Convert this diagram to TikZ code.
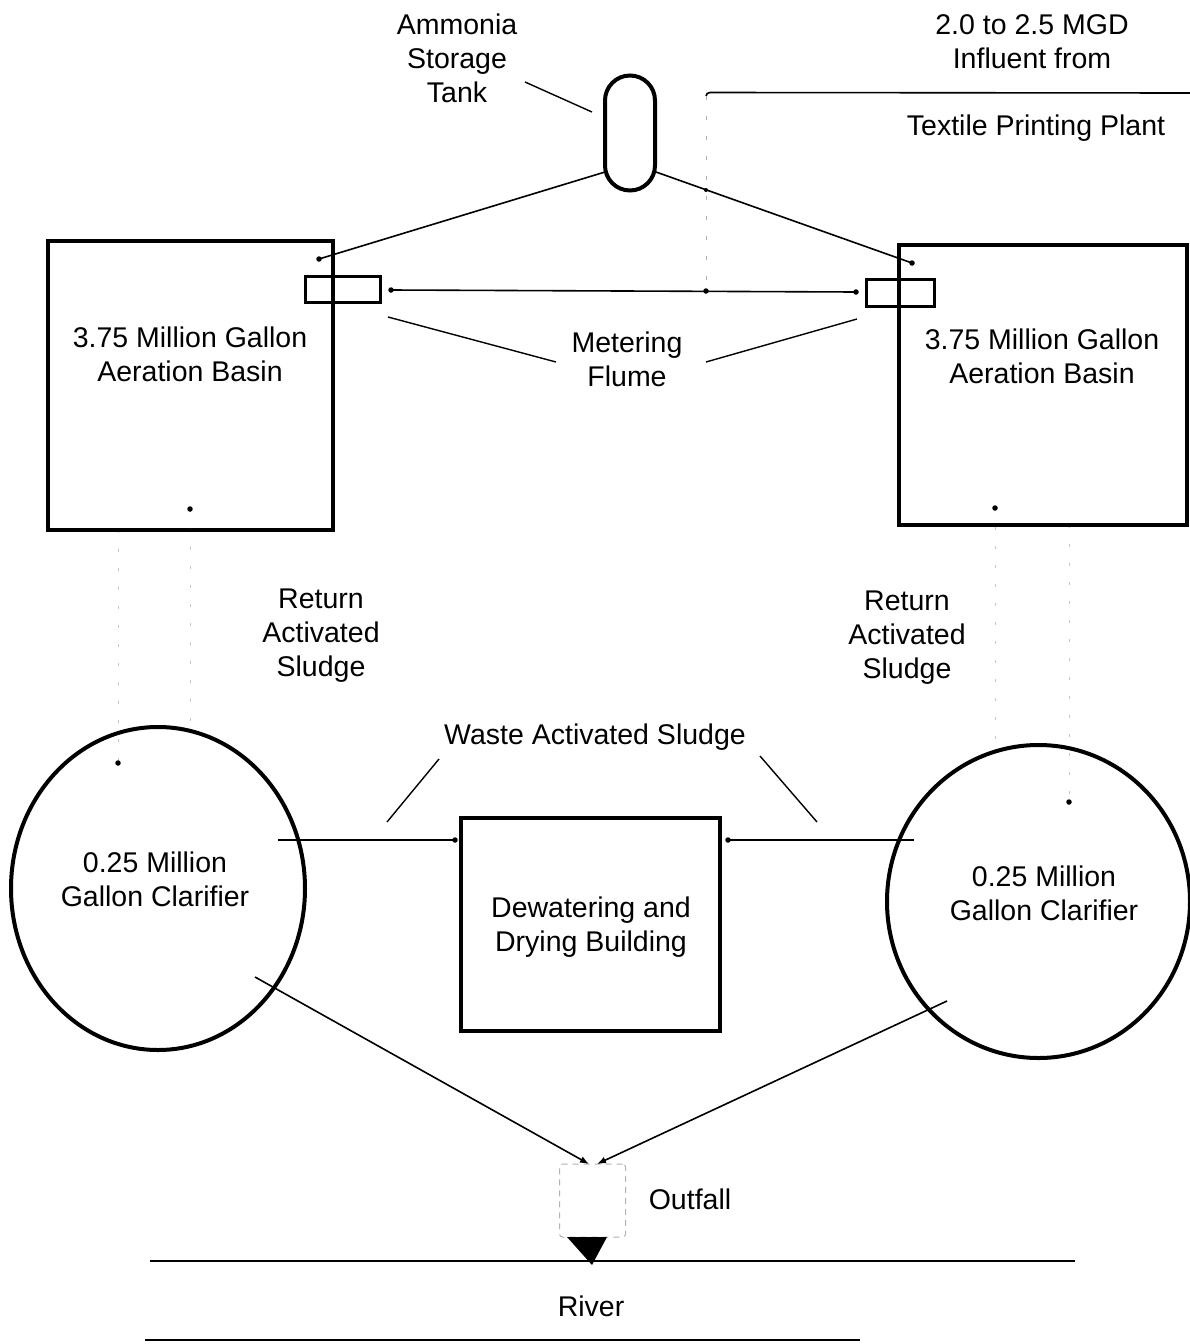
\documentclass[tikz,border=0pt]{standalone}
\usepackage{fontspec}
\setmainfont{Liberation Sans}
\usetikzlibrary{arrows.meta,shapes.geometric}
\begin{document}
\begin{tikzpicture}[x=1pt,y=-1pt,
  lbl/.style={font=\fontsize{28.5}{34}\selectfont, align=center, inner sep=0pt},
  heavybox/.style={draw, line width=3.4pt, inner sep=0pt},
  pipe/.style={line width=1.6pt},
  leader/.style={line width=1.4pt},
  dotpt/.style={circle, fill, inner sep=0pt, minimum size=5.5pt},
  smalldot/.style={circle, fill, inner sep=0pt, minimum size=4pt},
  faint/.style={draw=black!22, line width=1pt, dash pattern=on 3pt off 16pt},
  arr/.style={pipe, -{Latex[length=9pt,width=7pt]}},
  ]
\useasboundingbox (0,0) rectangle (1190,1344);
\fill[white] (0,0) rectangle (1190,1344);

% ---------- shapes ----------
\node[heavybox, minimum width=285pt, minimum height=289pt] (bL) at (190.5,385.5) {};
\node[heavybox, minimum width=288pt, minimum height=280pt] (bR) at (1043,385) {};
\node[heavybox, line width=3pt, minimum width=75pt, minimum height=26pt] (fL) at (342.5,289) {};
\node[heavybox, line width=3pt, minimum width=68pt, minimum height=27pt] (fR) at (900,292.5) {};
\node[draw, line width=4pt, minimum width=50pt, minimum height=115pt, rounded corners=25pt, inner sep=0pt] (tank) at (630,133) {};
\node[draw, ellipse, line width=4pt, minimum width=294pt, minimum height=323pt, inner sep=0pt] (cL) at (158,888.5) {};
\node[draw, ellipse, line width=4pt, minimum width=303pt, minimum height=313pt, inner sep=0pt] (cR) at (1038.5,901.5) {};
\node[heavybox, minimum width=259pt, minimum height=213pt] (dw) at (590.5,924.5) {};
\node[draw=black!30, line width=1pt, dash pattern=on 6pt off 5pt, rounded corners=3pt, minimum width=66pt, minimum height=73pt, inner sep=0pt] (out) at (592.5,1200.5) {};
\fill (567,1237) -- (607,1237) -- (592,1265) -- cycle;

% ---------- labels ----------
\node[lbl] (tAmm) at (457,58.5) {Ammonia\\Storage\\Tank};
\node[lbl] (tInf) at (1032,41.5) {2.0 to 2.5 MGD\\Influent from};
\node[lbl] (tTex) at (1036,128) {Textile Printing Plant};
\node[lbl] (tBL) at (190,354) {3.75 Million Gallon\\Aeration Basin};
\node[lbl] (tBR) at (1042,356) {3.75 Million Gallon\\Aeration Basin};
\node[lbl] (tMet) at (627,359.5) {Metering\\Flume};
\node[lbl] (tRL) at (321,636) {Return\\Activated\\Sludge};
\node[lbl] (tRR) at (907,638) {Return\\Activated\\Sludge};
\node[lbl] (tWas) at (595,737) {Waste Activated Sludge};
\node[lbl] (tCL) at (155,879) {0.25 Million\\Gallon Clarifier};
\node[lbl] (tCR) at (1044,893) {0.25 Million\\Gallon Clarifier};
\node[lbl] (tDw) at (591,927) {Dewatering and\\Drying Building};
\node[lbl] (tOut) at (690,1199) {Outfall};
\node[lbl] (tRiv) at (591,1306) {River};

% ---------- coordinates ----------
\coordinate (tankL) at (605,172);
\coordinate (tankR) at (656,172);
\coordinate (inL) at (319,259);
\coordinate (inR) at (912,263);
\coordinate (flL) at (391,290);
\coordinate (flR) at (856,292);
\coordinate (jn) at (706,291);
\coordinate (tk) at (706,190);
\coordinate (pTop) at (706,96);
\coordinate (pEnd) at (1190,93);
\coordinate (wL0) at (278,840);
\coordinate (wL1) at (455,840);
\coordinate (wR0) at (914,840);
\coordinate (wR1) at (728,840);
\coordinate (oL0) at (255,977);
\coordinate (oL1) at (589,1164);
\coordinate (oR0) at (947,1001);
\coordinate (oR1) at (597,1164);

% ---------- connectors ----------
\draw[pipe] (tankL) -- (inL);
\draw[pipe] (tankR) -- (inR);
\draw[pipe] (flL) -- (flR);
\draw[pipe] (pTop) to[out=90,in=180] (710,92.5) -- (pEnd);
\draw[draw=black!30, line width=1pt, dash pattern=on 4pt off 16pt] (pTop) -- (jn);
\node[dotpt] at (inL) {};
\node[dotpt] at (inR) {};
\node[dotpt] at (flL) {};
\node[dotpt] at (flR) {};
\node[dotpt] at (jn) {};
\node[smalldot] at (tk) {};

% leaders
\draw[leader] (525,82) -- (592,112);
\draw[leader] (388,317) -- (556,362);
\draw[leader] (857,319) -- (706,362);
\draw[leader] (439,759) -- (387,822);
\draw[leader] (760,756) -- (817,822);

% waste sludge lines
\draw[pipe] (wL0) -- (wL1);
\draw[pipe] (wR0) -- (wR1);
\node[dotpt] at (wL1) {};
\node[dotpt] at (wR1) {};

% faint return sludge lines
\draw[faint] (118,530) -- (118,763);
\draw[faint] (190,509) -- (190,728);
\draw[faint] (995,508) -- (995,752);
\draw[faint] (1069,525) -- (1069,802);
\node[dotpt] at (190,509) {};
\node[dotpt] at (118,763) {};
\node[dotpt] at (995,508) {};
\node[dotpt] at (1069,802) {};
\node[smalldot] at (118,530) {};
\node[smalldot] at (190,530) {};
\node[smalldot] at (995,525) {};
\node[smalldot] at (1069,525) {};

% effluent to outfall
\draw[arr] (oL0) -- (oL1);
\draw[arr] (oR0) -- (oR1);

% river
\draw[pipe] (150,1261) -- (1075,1261);
\draw[pipe] (145,1340) -- (860,1340);
\end{tikzpicture}
\end{document}
